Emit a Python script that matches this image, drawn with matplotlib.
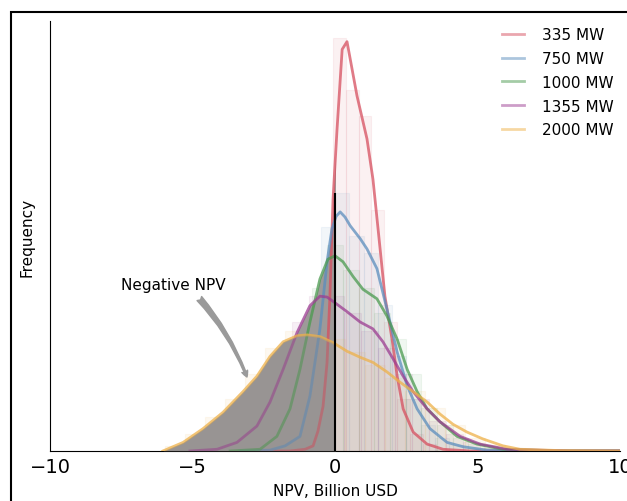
import matplotlib
matplotlib.use("Agg")
import matplotlib.pyplot as plt
from matplotlib.lines import Line2D
from matplotlib.patches import Rectangle

labels = ["335 MW", "750 MW", "1000 MW", "1355 MW", "2000 MW"]
colors = ["#d64f5f", "#5b8dbd", "#4a9a4f", "#9c3d92", "#eeb149"]

# KDE curves (x in billion USD, y in density)
x_335 = [-2.63, -1.58, -1.05, -0.77, -0.60, -0.42, -0.28, -0.18, -0.07, 0.07, 0.25, 0.42,
         0.77, 1.12, 1.33, 1.51, 1.75, 2.00, 2.18, 2.39, 2.74, 3.23, 3.79, 4.74, 10.0]
y_335 = [0.0, 0.0, 0.002, 0.006, 0.023, 0.052, 0.103, 0.180, 0.293, 0.374, 0.467, 0.476,
         0.413, 0.363, 0.316, 0.258, 0.180, 0.130, 0.087, 0.049, 0.022, 0.008, 0.002, 0.0, 0.0]

x_750 = [-3.33, -2.28, -1.75, -1.23, -0.88, -0.53, -0.28, -0.11, 0.04, 0.18, 0.35, 0.53,
         0.88, 1.12, 1.47, 1.82, 2.18, 2.53, 2.88, 3.33, 3.93, 4.49, 5.33, 7.2, 10.0]
y_750 = [0.0, 0.001, 0.006, 0.017, 0.064, 0.142, 0.220, 0.258, 0.273, 0.278, 0.272, 0.262,
         0.247, 0.235, 0.212, 0.165, 0.115, 0.076, 0.049, 0.026, 0.010, 0.005, 0.001, 0.0, 0.0]

x_1000 = [-3.68, -2.63, -2.04, -1.58, -1.23, -0.88, -0.53, -0.25, 0.0, 0.28, 0.63, 0.98,
          1.47, 1.82, 2.18, 2.53, 2.88, 3.23, 3.68, 4.28, 4.98, 5.89, 7.9, 10.0]
y_1000 = [0.0, 0.002, 0.017, 0.049, 0.095, 0.150, 0.200, 0.223, 0.227, 0.220, 0.203, 0.188,
          0.177, 0.157, 0.130, 0.095, 0.069, 0.049, 0.034, 0.017, 0.008, 0.002, 0.0, 0.0]

x_1355 = [-5.09, -4.14, -3.44, -2.74, -2.28, -1.82, -1.33, -0.88, -0.53, -0.28, -0.07, 0.42,
          0.88, 1.33, 1.68, 2.04, 2.39, 2.74, 3.23, 3.68, 4.39, 5.09, 6.04, 8.25, 10.0]
y_1355 = [0.0, 0.002, 0.010, 0.029, 0.057, 0.095, 0.138, 0.169, 0.180, 0.179, 0.174, 0.162,
          0.150, 0.142, 0.127, 0.107, 0.087, 0.069, 0.049, 0.034, 0.017, 0.008, 0.002, 0.0, 0.0]

x_2000 = [-6.04, -5.33, -4.63, -3.93, -3.23, -2.74, -2.28, -1.82, -1.33, -0.98, -0.53, -0.07,
          0.42, 0.88, 1.33, 1.82, 2.28, 2.74, 3.23, 3.68, 4.14, 4.63, 5.19, 5.89, 6.49, 7.9, 10.0]
y_2000 = [0.0, 0.010, 0.026, 0.045, 0.069, 0.087, 0.110, 0.127, 0.134, 0.135, 0.133, 0.126,
          0.116, 0.109, 0.103, 0.092, 0.080, 0.069, 0.057, 0.043, 0.031, 0.022, 0.014, 0.006,
          0.002, 0.0005, 0.0]

curves_x = [x_335, x_750, x_1000, x_1355, x_2000]
curves_y = [y_335, y_750, y_1000, y_1355, y_2000]

# faint histogram bars behind the curves
bins_335 = [-1.2, -0.75, -0.3, 0.15, 0.6, 1.05, 1.5, 1.95, 2.4, 2.85, 3.3, 3.75]
hist_335 = [0.003, 0.01, 0.15, 0.48, 0.42, 0.39, 0.28, 0.15, 0.06, 0.02, 0.008, 0.002]
bins_750 = [-2.25, -1.75, -1.25, -0.75, -0.25, 0.25, 0.75, 1.25, 1.75, 2.25, 2.75, 3.25,
            3.75, 4.25, 4.75]
hist_750 = [0.004, 0.01, 0.03, 0.09, 0.26, 0.30, 0.25, 0.23, 0.17, 0.11, 0.06, 0.03,
            0.015, 0.007, 0.003]
bins_1000 = [-2.75, -2.2, -1.65, -1.1, -0.55, 0.0, 0.55, 1.1, 1.65, 2.2, 2.75, 3.3, 3.85,
             4.4, 4.95, 5.5]
hist_1000 = [0.004, 0.015, 0.045, 0.12, 0.19, 0.24, 0.21, 0.19, 0.16, 0.13, 0.09, 0.05,
             0.03, 0.015, 0.008, 0.003]
bins_1355 = [-4.2, -3.6, -3.0, -2.4, -1.8, -1.2, -0.6, 0.0, 0.6, 1.2, 1.8, 2.4, 3.0, 3.6,
             4.2, 4.8, 5.4]
hist_1355 = [0.003, 0.008, 0.02, 0.05, 0.1, 0.15, 0.18, 0.18, 0.16, 0.14, 0.12, 0.09, 0.06,
             0.035, 0.02, 0.01, 0.004]
bins_2000 = [-5.6, -4.9, -4.2, -3.5, -2.8, -2.1, -1.4, -0.7, 0.0, 0.7, 1.4, 2.1, 2.8, 3.5,
             4.2, 4.9, 5.6, 6.3]
hist_2000 = [0.006, 0.02, 0.04, 0.06, 0.09, 0.12, 0.14, 0.14, 0.13, 0.115, 0.10, 0.085,
             0.07, 0.05, 0.03, 0.015, 0.007, 0.003]

hist_bins = [bins_335, bins_750, bins_1000, bins_1355, bins_2000]
hist_vals = [hist_335, hist_750, hist_1000, hist_1355, hist_2000]
hist_width = [0.45, 0.5, 0.55, 0.6, 0.7]

fig = plt.figure(figsize=(6.27, 5.02), dpi=100)
ax = fig.add_axes([0.0797, 0.0996, 0.9093, 0.8566])

for b, h, w, c in zip(hist_bins, hist_vals, hist_width, colors):
    ax.bar(b, h, width=w, color=c, alpha=0.08, edgecolor=c, linewidth=0.8, zorder=0)

# grey shading of the negative side
clip = Rectangle((-10, 0), 10, 1, transform=ax.transData)
for xs, ys in zip(curves_x, curves_y):
    poly = ax.fill_between(xs, ys, 0, color="#9d9a99", linewidth=0, zorder=1)
    poly.set_clip_path(clip)

for xs, ys, c in zip(curves_x, curves_y, colors):
    ax.plot(xs, ys, color=c, lw=2, alpha=0.75, zorder=3, solid_joinstyle="round")

# darken the lines a bit inside the widest shaded area
over = ax.fill_between(x_2000, y_2000, 0, color="#8f8a88", alpha=0.35, linewidth=0, zorder=4)
over.set_clip_path(Rectangle((-10, 0), 10, 1, transform=ax.transData))

ax.vlines(0, 0, 0.30, color="black", lw=1.5, zorder=5)

ax.annotate("Negative NPV", xy=(-3.09, 0.086), xytext=(-5.68, 0.194),
            ha="center", va="center", fontsize=11,
            arrowprops=dict(arrowstyle="fancy", color="#9a9a9a", relpos=(0.69, 0.0),
                            shrinkA=4, shrinkB=0, connectionstyle="arc3,rad=-0.1"))

handles = [Line2D([0], [0], color=c, lw=2, alpha=0.5) for c in colors]
ax.legend(handles, labels, loc="upper right", frameon=False, fontsize=11,
          bbox_to_anchor=(614 / 627, 1 - 28 / 502), bbox_transform=fig.transFigure,
          borderaxespad=0, borderpad=0, labelspacing=0.58, handlelength=1.45,
          handletextpad=1.2)

ax.set_xlim(-10, 10)
ax.set_ylim(0, 0.5)
ax.set_xticks([-10, -5, 0, 5, 10])
ax.set_yticks([])
ax.tick_params(axis="x", length=0, labelsize=14, pad=4)
ax.spines["top"].set_visible(False)
ax.spines["right"].set_visible(False)
ax.set_xlabel("NPV, Billion USD", fontsize=11, labelpad=5)
ax.set_ylabel("Frequency", fontsize=11, labelpad=11)

fig.patches.append(Rectangle((11 / 627, -0.1), 1.2, 1.1 - 13 / 502, transform=fig.transFigure,
                             fill=False, edgecolor="black", lw=1.5))

fig.savefig("out.png", dpi=100)
